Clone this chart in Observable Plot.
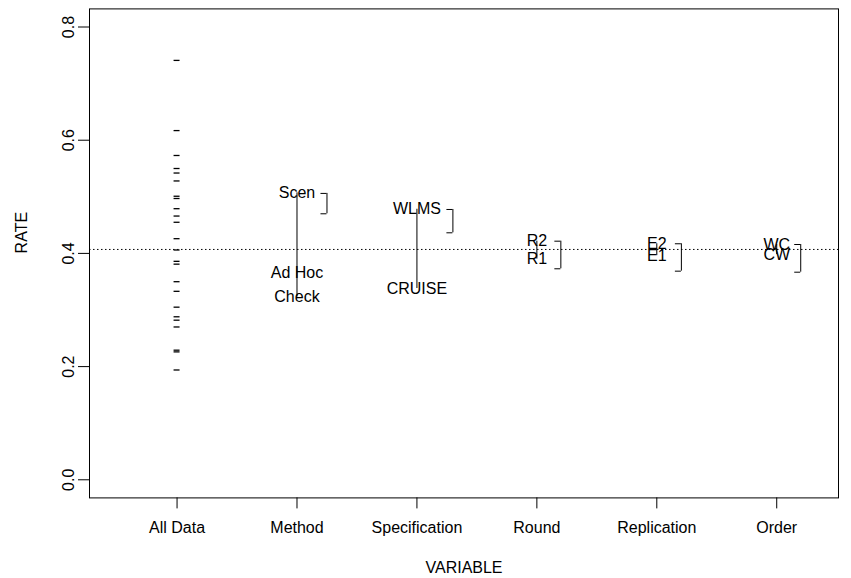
<!DOCTYPE html>
<html>
<head>
<meta charset="utf-8">
<script src="https://cdn.jsdelivr.net/npm/d3@7"></script>
<script src="https://cdn.jsdelivr.net/npm/@observablehq/plot@0.6"></script>
<style>
  html, body { margin: 0; padding: 0; background: #fff; }
  #chart svg { font-family: "Liberation Sans", Arial, Helvetica, sans-serif; display: block; }
</style>
</head>
<body>
<div id="chart"></div>
<script>
// ---- data ----
const categories = ["All Data", "Method", "Specification", "Round", "Replication", "Order"];
const allRates = [0.741, 0.617, 0.573, 0.550, 0.542, 0.528, 0.501, 0.497, 0.479, 0.466, 0.455,
  0.426, 0.406, 0.386, 0.381, 0.350, 0.333, 0.305, 0.288, 0.282, 0.270, 0.229, 0.226, 0.194];
const meanRate = 0.407;
const levelFactor = ["Method", "Method", "Method", "Specification", "Specification",
  "Round", "Round", "Replication", "Replication", "Order", "Order"];
const levelLabel = ["Scen", "Ad Hoc", "Check", "WLMS", "CRUISE", "R2", "R1", "E2", "E1", "WC", "CW"];
const levelMean = [0.507, 0.366, 0.323, 0.478, 0.338, 0.4216, 0.390, 0.417, 0.396, 0.4157, 0.398];
const bracketFactor = ["Method", "Specification", "Round", "Replication", "Order"];
const bracketTop = [0.506, 0.4776, 0.4216, 0.417, 0.4157];
const bracketBottom = [0.470, 0.4364, 0.3728, 0.3686, 0.3668];
const yTicks = [0, 0.2, 0.4, 0.6, 0.8];

// ---- layout (not data) ----
const bracketShift = {"Method": 0.25, "Specification": 0.30, "Round": 0.20, "Replication": 0.205, "Order": 0.20};
const dashHalf = 0.025, bracketTick = 0.05;

const pos = name => categories.indexOf(name) + 1;
const levels = levelLabel.map((l, i) => ({factor: levelFactor[i], label: l, mean: levelMean[i]}));
const ranges = categories.slice(1).map(f => {
  const m = levels.filter(d => d.factor === f).map(d => d.mean);
  return {factor: f, lo: d3.min(m), hi: d3.max(m)};
});
const brackets = bracketFactor.map((f, i) => ({factor: f, top: bracketTop[i], bottom: bracketBottom[i]}));

const FS = 16;
const chart = Plot.plot({
  width: 851,
  height: 578,
  marginLeft: 89,
  marginRight: 13,
  marginTop: 8.4,
  marginBottom: 80.6,
  x: {domain: [0.27, 6.515]},
  y: {domain: [-0.032, 0.832]},
  style: {fontFamily: "Liberation Sans, Arial, sans-serif", fontSize: FS + "px", color: "black", background: "white"},
  marks: [
    Plot.frame({stroke: "black", strokeWidth: 1}),
    Plot.axisX({ticks: [1, 2, 3, 4, 5, 6], tickFormat: i => categories[i - 1], tickSize: 11, tickPadding: 13, fontSize: FS, label: null, stroke: "black"}),
    Plot.axisY({ticks: yTicks, tickSize: 11, tickFormat: () => "", label: null}),
    Plot.text(yTicks, {y: d => d, text: d => d.toFixed(1), frameAnchor: "left", dx: -21, rotate: -90, fontSize: FS, textAnchor: "middle", lineAnchor: "middle", fill: "black"}),
    Plot.text(["RATE"], {frameAnchor: "left", dx: -68, rotate: -90, fontSize: FS, lineAnchor: "middle", fill: "black"}),
    Plot.text(["VARIABLE"], {frameAnchor: "bottom", dy: 70, fontSize: FS, lineAnchor: "middle", fill: "black"}),
    Plot.ruleY([meanRate], {stroke: "black", strokeWidth: 1, strokeDasharray: "1.5,2.5"}),
    Plot.ruleY(allRates, {y: d => d, x1: pos("All Data") - dashHalf, x2: pos("All Data") + dashHalf, stroke: "black", strokeWidth: 1.3}),
    Plot.ruleX(ranges, {x: d => pos(d.factor), y1: "lo", y2: "hi", stroke: "black", strokeWidth: 1}),
    Plot.text(levels, {x: d => pos(d.factor), y: "mean", text: "label", fontSize: FS, fill: "black", lineAnchor: "middle"}),
    Plot.ruleX(brackets, {x: d => pos(d.factor) + bracketShift[d.factor], y1: "top", y2: "bottom", stroke: "black"}),
    Plot.ruleY(brackets, {y: "top", x1: d => pos(d.factor) + bracketShift[d.factor] - bracketTick, x2: d => pos(d.factor) + bracketShift[d.factor], stroke: "black"}),
    Plot.ruleY(brackets, {y: "bottom", x1: d => pos(d.factor) + bracketShift[d.factor] - bracketTick, x2: d => pos(d.factor) + bracketShift[d.factor], stroke: "black"})
  ]
});
document.getElementById("chart").appendChild(chart);
</script>
</body>
</html>
